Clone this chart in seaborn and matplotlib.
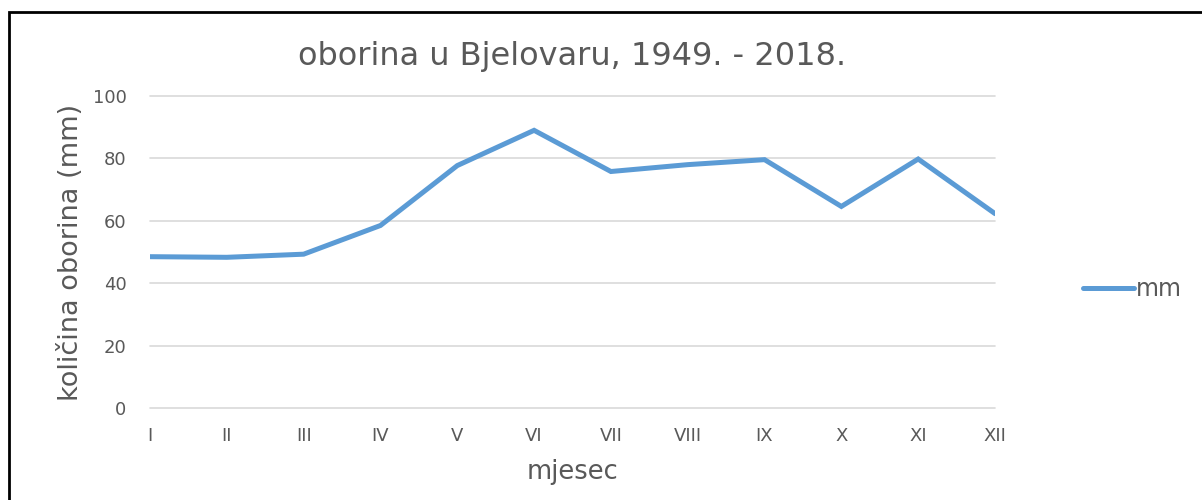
import matplotlib.pyplot as plt
import seaborn as sns
import pandas as pd

months = ['I', 'II', 'III', 'IV', 'V', 'VI', 'VII', 'VIII', 'IX', 'X', 'XI', 'XII']
mm = [48.5, 48.3, 49.3, 58.5, 77.7, 89.0, 75.8, 78.0, 79.6, 64.6, 79.8, 62.3]
yticks = [0, 20, 40, 60, 80, 100]

df = pd.DataFrame({'pos': range(len(months)), 'mm': mm})

sns.set_theme(style="white")
plt.rcParams['font.family'] = ['DejaVu Sans']
grey = '#595959'

fig = plt.figure(figsize=(12.02, 5.0), dpi=100)
ax = fig.add_axes([150 / 1202, 92 / 500, 845 / 1202, 312 / 500])

sns.lineplot(data=df, x='pos', y='mm', color='#5B9BD5', linewidth=3.6,
             label='mm', ax=ax, solid_joinstyle='miter')

ax.set_xlim(0, len(months) - 1)
ax.set_ylim(0, 100)
ax.set_yticks(yticks)
ax.set_xticks(range(len(months)))
ax.set_xticklabels(months)
ax.yaxis.grid(True, color='#D9D9D9', linewidth=1.2)
ax.xaxis.grid(False)
for g in ax.get_ygridlines():
    g.set_clip_on(False)
for s in ax.spines.values():
    s.set_visible(False)
ax.tick_params(axis='both', length=0, labelsize=13, colors=grey)
ax.tick_params(axis='y', pad=17)
ax.tick_params(axis='x', pad=14)

ax.set_title('oborina u Bjelovaru, 1949. - 2018.', fontsize=23, color=grey, pad=22)
ax.set_xlabel('mjesec', fontsize=18.5, color=grey, labelpad=10)
ax.set_ylabel('količina oborina (mm)', fontsize=19.5, color=grey, labelpad=6)

leg = ax.legend(loc='center left', bbox_to_anchor=(1.079, 0.38), frameon=False,
                fontsize=17, handlelength=2.15, handletextpad=0.1)
for t in leg.get_texts():
    t.set_color(grey)

# outer frame
fig.patches.append(plt.Rectangle((9 / 1202, -0.05), 1.1, 1 - 12 / 500 + 0.05,
                                 transform=fig.transFigure, fill=False,
                                 edgecolor='black', linewidth=2, zorder=0))

fig.savefig('out.png', dpi=100)
